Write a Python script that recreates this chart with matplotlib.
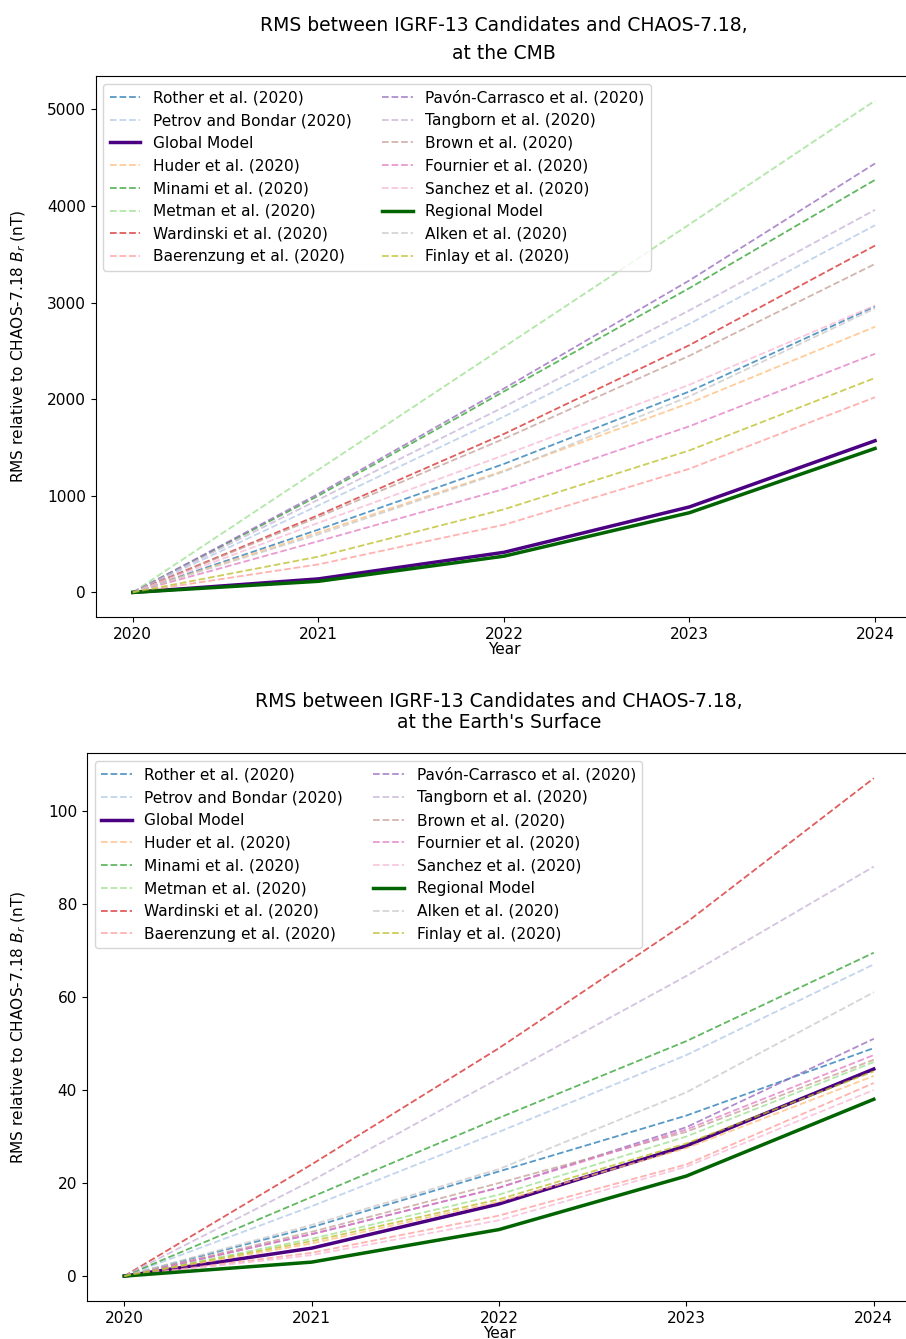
import matplotlib
matplotlib.use('Agg')
import matplotlib.pyplot as plt

# Years of the forecast
years = [2020, 2021, 2022, 2023, 2024]

# model labels in legend order
names = ['Rother et al. (2020)', 'Petrov and Bondar (2020)', 'Global Model',
         'Huder et al. (2020)', 'Minami et al. (2020)', 'Metman et al. (2020)',
         'Wardinski et al. (2020)', 'Baerenzung et al. (2020)',
         'Pavón-Carrasco et al. (2020)', 'Tangborn et al. (2020)',
         'Brown et al. (2020)', 'Fournier et al. (2020)', 'Sanchez et al. (2020)',
         'Regional Model', 'Alken et al. (2020)', 'Finlay et al. (2020)']

# RMS at the CMB (nT)
rother_cmb = [0, 650, 1330, 2080, 2960]
petrov_cmb = [0, 900, 1820, 2780, 3800]
global_cmb = [0, 140, 415, 885, 1570]
huder_cmb = [0, 620, 1260, 1960, 2750]
minami_cmb = [0, 1000, 2080, 3150, 4270]
metman_cmb = [0, 1270, 2540, 3810, 5090]
wardinski_cmb = [0, 800, 1640, 2560, 3590]
baerenzung_cmb = [0, 290, 700, 1280, 2020]
pavon_cmb = [0, 1020, 2110, 3230, 4440]
tangborn_cmb = [0, 960, 1920, 2920, 3960]
brown_cmb = [0, 780, 1590, 2450, 3400]
fournier_cmb = [0, 530, 1070, 1720, 2470]
sanchez_cmb = [0, 720, 1420, 2150, 2970]
regional_cmb = [0, 115, 375, 825, 1490]
alken_cmb = [0, 600, 1250, 2030, 2940]
finlay_cmb = [0, 370, 860, 1470, 2220]

# RMS at the Earth's surface (nT)
rother_surf = [0, 10.5, 22.5, 34.5, 49]
petrov_surf = [0, 15, 31, 47.5, 67]
global_surf = [0, 6, 15.5, 28, 44.5]
huder_surf = [0, 7, 16, 27.5, 43]
minami_surf = [0, 17, 34, 50.5, 69.5]
metman_surf = [0, 8, 17.5, 30, 46]
wardinski_surf = [0, 24, 49, 76, 107]
baerenzung_surf = [0, 5, 13, 24, 41.5]
pavon_surf = [0, 9, 19, 32, 51]
tangborn_surf = [0, 20.5, 42.5, 64.5, 88]
brown_surf = [0, 9.5, 20, 31, 46.5]
fournier_surf = [0, 9, 19, 31.5, 47.5]
sanchez_surf = [0, 4.5, 12, 23.5, 40]
regional_surf = [0, 3, 10, 21.5, 38]
alken_surf = [0, 11, 23, 39.5, 61]
finlay_surf = [0, 7.5, 16.5, 28.5, 44]

cmb = [rother_cmb, petrov_cmb, global_cmb, huder_cmb, minami_cmb, metman_cmb,
       wardinski_cmb, baerenzung_cmb, pavon_cmb, tangborn_cmb, brown_cmb,
       fournier_cmb, sanchez_cmb, regional_cmb, alken_cmb, finlay_cmb]
surf = [rother_surf, petrov_surf, global_surf, huder_surf, minami_surf, metman_surf,
        wardinski_surf, baerenzung_surf, pavon_surf, tangborn_surf, brown_surf,
        fournier_surf, sanchez_surf, regional_surf, alken_surf, finlay_surf]

colors = ['#1f77b4', '#aec7e8', 'indigo', '#ffbb78', '#2ca02c', '#98df8a',
          '#d62728', '#ff9896', '#9467bd', '#c5b0d5', '#c49c94', '#e377c2',
          '#f7b6d2', 'darkgreen', '#c7c7c7', '#bcbd22']

plt.rcParams['font.size'] = 11.1

fig = plt.figure(figsize=(9.06, 13.39), dpi=100)
ax1 = fig.add_axes([0.1056, 0.5392, 0.9012, 0.404])
ax2 = fig.add_axes([0.0958, 0.0284, 0.910, 0.409])

titles = ['RMS between IGRF-13 Candidates and CHAOS-7.18,\nat the CMB',
          "RMS between IGRF-13 Candidates and CHAOS-7.18,\nat the Earth's Surface"]
pads = [12, 18]
spacings = [1.65, 1.15]

for ax, data, title, pad, ls in zip([ax1, ax2], [cmb, surf], titles, pads, spacings):
    for name, vals, c in zip(names, data, colors):
        if 'Model' in name:
            ax.plot(years, vals, color=c, lw=2.5, label=name)
        else:
            ax.plot(years, vals, '--', color=c, lw=1.3, alpha=0.75, label=name)
    ax.set_xticks(years)
    ax.set_xlabel('Year', labelpad=0)
    ax.set_ylabel('RMS relative to CHAOS-7.18 $B_r$ (nT)', labelpad=14)
    ax.set_title(title, fontsize=13.5, pad=pad, linespacing=ls)
    ax.legend(ncol=2, loc='upper left', fontsize=11.1)

fig.savefig('out.png', dpi=100)
